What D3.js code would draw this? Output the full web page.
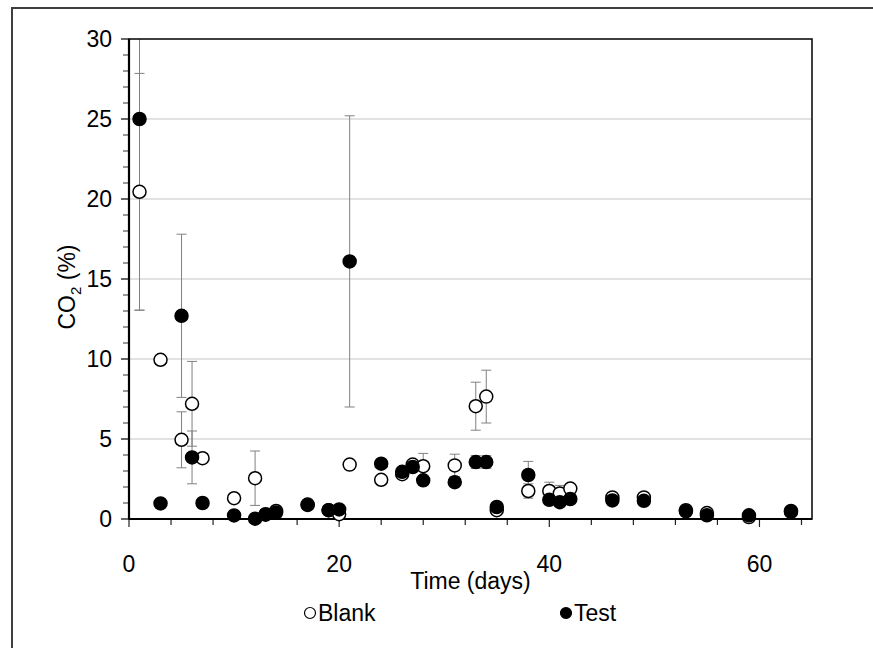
<!DOCTYPE html>
<html>
<head>
<meta charset="utf-8">
<script src="https://cdn.jsdelivr.net/npm/d3@7"></script>
<style>
  body { margin: 0; background: #fff; }
  svg { display: block; font-family: "Liberation Sans", Arial, sans-serif; }
</style>
</head>
<body>
<svg id="chart" width="873" height="648"></svg>
<script>
// sampling days
var days = [1, 3, 5, 6, 7, 10, 12, 13, 14, 17, 19, 20, 21, 24, 26, 27, 28, 31, 33, 34, 35, 38, 40, 41, 42, 46, 49, 53, 55, 59, 63];
// CO2 (%) blank
var blank = [20.45, 9.95, 4.95, 7.2, 3.8, 1.3, 2.55, 0.3, 0.5, 0.9, 0.55, 0.3, 3.4, 2.45, 2.8, 3.4, 3.3, 3.35, 7.05, 7.65, 0.55, 1.75, 1.75, 1.6, 1.9, 1.35, 1.35, 0.55, 0.37, 0.12, 0.5];
var blankErr = [7.4, 0.2, 1.75, 2.65, 0.2, 0.1, 1.7, 0.1, 0.1, 0.1, 0.1, 0.1, 0.2, 0.2, 0.2, 0.2, 0.8, 0.7, 1.5, 1.65, 0.1, 0.45, 0.55, 0.5, 0.2, 0.1, 0.1, 0.1, 0.1, 0.1, 0.1];
// CO2 (%) test
var test = [25.0, 0.97, 12.7, 3.85, 1.0, 0.22, 0.02, 0.27, 0.4, 0.88, 0.55, 0.6, 16.1, 3.46, 2.95, 3.25, 2.42, 2.3, 3.56, 3.56, 0.75, 2.75, 1.2, 1.05, 1.25, 1.16, 1.14, 0.48, 0.23, 0.23, 0.44];
var testErr = [11.95, 0.1, 5.1, 1.65, 0.1, 0.1, 0.05, 0.1, 0.1, 0.1, 0.1, 0.1, 9.1, 0.2, 0.2, 0.2, 0.2, 0.2, 0.4, 0.4, 0.1, 0.85, 0.2, 0.2, 0.2, 0.1, 0.1, 0.1, 0.1, 0.1, 0.1];

var xTicks = [0, 20, 40, 60];
var yTicks = [0, 5, 10, 15, 20, 25, 30];

var svg = d3.select("#chart");
var pLeft = 129, pRight = 812, pTop = 39, pBottom = 519;
var fs = 23;

var x = d3.scaleLinear().domain([0, 65]).range([pLeft, pRight]);
var y = d3.scaleLinear().domain([0, 30]).range([pBottom, pTop]);

// outer frame (runs off the picture at right and bottom)
svg.append("rect")
    .attr("x", 12).attr("y", 8)
    .attr("width", 880).attr("height", 660)
    .attr("fill", "none").attr("stroke", "#3f3f3f").attr("stroke-width", 2);

// gridlines
svg.append("g").selectAll("line")
    .data(yTicks.filter(function(t){ return t > 0 && t < 30; }))
    .enter().append("line")
    .attr("x1", pLeft).attr("x2", pRight)
    .attr("y1", function(d){ return y(d); })
    .attr("y2", function(d){ return y(d); })
    .attr("stroke", "#d9d9d9").attr("stroke-width", 1.5);

// minor ticks
var yMinor = d3.range(0, 31, 1);
svg.append("g").selectAll("line").data(yMinor).enter().append("line")
    .attr("x1", function(d){ return d % 5 === 0 ? pLeft - 8 : pLeft - 6; })
    .attr("x2", pLeft)
    .attr("y1", function(d){ return y(d); })
    .attr("y2", function(d){ return y(d); })
    .attr("stroke", function(d){ return d % 5 === 0 ? "#000" : "#555"; })
    .attr("stroke-width", 1.2);

var xMinor = d3.range(0, 65, 4);
svg.append("g").selectAll("line").data(xMinor).enter().append("line")
    .attr("x1", function(d){ return x(d); })
    .attr("x2", function(d){ return x(d); })
    .attr("y1", pBottom)
    .attr("y2", function(d){ return d % 20 === 0 ? pBottom + 8 : pBottom + 6; })
    .attr("stroke", "#222").attr("stroke-width", 1.2);

// tick labels
svg.append("g").selectAll("text").data(yTicks).enter().append("text")
    .attr("x", pLeft - 17)
    .attr("y", function(d){ return y(d); })
    .attr("dy", "0.36em")
    .attr("text-anchor", "end")
    .attr("font-size", fs)
    .text(function(d){ return d; });

svg.append("g").selectAll("text").data(xTicks).enter().append("text")
    .attr("x", function(d){ return x(d); })
    .attr("y", pBottom + 53)
    .attr("text-anchor", "middle")
    .attr("font-size", fs)
    .text(function(d){ return d; });

// error bars
svg.append("clipPath").attr("id", "clip").append("rect")
    .attr("x", pLeft).attr("y", pTop).attr("width", pRight - pLeft).attr("height", pBottom - pTop);

var errG = svg.append("g").attr("clip-path", "url(#clip)");
function drawErr(vals, errs) {
    days.forEach(function(d, i){
        var g = errG.append("g").attr("stroke", "#808080").attr("stroke-width", 1);
        var x0 = x(d);
        g.append("line").attr("x1", x0).attr("x2", x0)
            .attr("y1", y(vals[i] + errs[i])).attr("y2", y(vals[i] - errs[i]));
        [vals[i] + errs[i], vals[i] - errs[i]].forEach(function(v){
            g.append("line").attr("x1", x0 - 5).attr("x2", x0 + 5)
                .attr("y1", y(v)).attr("y2", y(v));
        });
    });
}
drawErr(blank, blankErr);
drawErr(test, testErr);

// plot border
svg.append("rect")
    .attr("x", pLeft).attr("y", pTop)
    .attr("width", pRight - pLeft).attr("height", pBottom - pTop)
    .attr("fill", "none").attr("stroke", "#000").attr("stroke-width", 1.5);
svg.append("line")
    .attr("x1", pLeft).attr("x2", pRight).attr("y1", pBottom).attr("y2", pBottom)
    .attr("stroke", "#000").attr("stroke-width", 2.2);
svg.append("line")
    .attr("x1", pLeft).attr("x2", pLeft).attr("y1", pTop).attr("y2", pBottom)
    .attr("stroke", "#000").attr("stroke-width", 2.2);

// points
svg.append("g").selectAll("circle").data(days).enter().append("circle")
    .attr("cx", function(d){ return x(d); })
    .attr("cy", function(d, i){ return y(blank[i]); })
    .attr("r", 6.5)
    .attr("fill", "#fff").attr("stroke", "#000").attr("stroke-width", 1.5);

svg.append("g").selectAll("circle").data(days).enter().append("circle")
    .attr("cx", function(d){ return x(d); })
    .attr("cy", function(d, i){ return y(test[i]); })
    .attr("r", 6.5)
    .attr("fill", "#000").attr("stroke", "#000").attr("stroke-width", 1.5);

// axis titles
svg.append("text")
    .attr("x", (pLeft + pRight) / 2).attr("y", 589)
    .attr("text-anchor", "middle").attr("font-size", fs)
    .text("Time (days)");

var yt = svg.append("text")
    .attr("transform", "translate(75," + ((pTop + pBottom) / 2 + 8) + ") rotate(-90)")
    .attr("text-anchor", "middle").attr("font-size", fs);
yt.append("tspan").text("CO");
yt.append("tspan").attr("font-size", 15).attr("dy", 6).text("2");
yt.append("tspan").attr("dy", -6).text(" (%)");

// legend
var legend = [{name: "Blank", fill: "#fff", x: 310}, {name: "Test", fill: "#000", x: 566}];
var lg = svg.append("g").selectAll("g").data(legend).enter().append("g")
    .attr("transform", function(d){ return "translate(" + d.x + ",613)"; });
lg.append("circle").attr("r", 5.5)
    .attr("fill", function(d){ return d.fill; })
    .attr("stroke", "#000").attr("stroke-width", 1.2);
lg.append("text").attr("x", 8).attr("dy", "0.36em").attr("font-size", fs)
    .text(function(d){ return d.name; });
</script>
</body>
</html>
